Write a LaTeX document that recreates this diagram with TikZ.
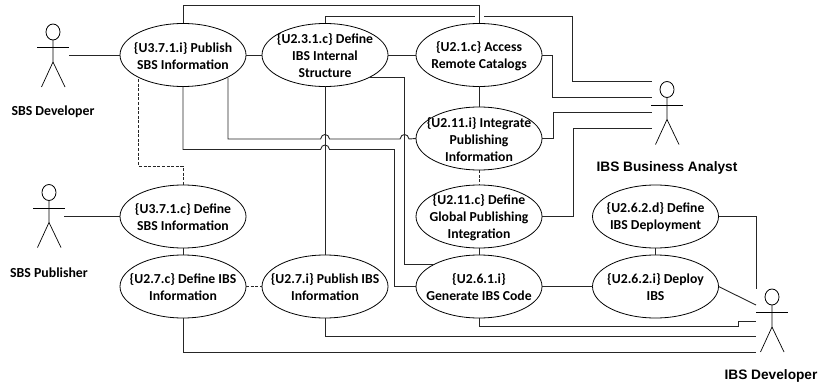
\documentclass[tikz,border=0pt]{standalone}
\usepackage{fontspec}
\setmainfont{Carlito}
\newfontfamily\arialfont{Liberation Sans}
\usetikzlibrary{shapes.geometric}
\tikzset{
  uc/.style={draw,ellipse,inner sep=0pt,outer sep=0pt,minimum width=126,minimum height=63,line width=0.8pt},
  lbl/.style={font=\fontsize{13.7}{17}\selectfont\bfseries,align=center,inner sep=0pt,yshift=-1pt},
  conn/.style={draw,line width=0.9pt,black!85},
  dashconn/.style={draw,line width=0.8pt,dash pattern=on 3pt off 1.6pt,black!85},
  limb/.style={draw,line width=0.7pt},
  head/.style={draw,ellipse,inner sep=0pt,outer sep=0pt,minimum width=14,minimum height=16,line width=0.8pt},
  cap1/.style={font=\fontsize{13.8}{15}\selectfont\bfseries,inner sep=0pt},
  cap2/.style={font=\arialfont\fontsize{13.7}{15}\selectfont\bfseries,inner sep=0pt},
}
\newcommand{\drawactor}[2]{%
  \draw[limb] (#1-16,#2+15.5) -- (#1+16,#2+15.5);
  \draw[limb] (#1,#2+8) -- (#1,#2+30) -- (#1-11.5,#2+55);
  \draw[limb] (#1,#2+30) -- (#1+12,#2+55);
}
\begin{document}
\begin{tikzpicture}[x=1pt,y=-1pt]
\useasboundingbox (0,0) rectangle (818,385);
% use cases
\node[uc,label={[lbl]center:{\{U3.7.1.i\} Publish\\SBS Information}}] (a) at (183,55) {};
\node[uc,label={[lbl]center:{\{U2.3.1.c\} Define\\IBS Internal\\Structure}}] (b) at (325,55) {};
\node[uc,label={[lbl]center:{\{U2.1.c\} Access\\Remote Catalogs}}] (c) at (479,55) {};
\node[uc,label={[lbl]center:{\{U2.11.i\} Integrate\\Publishing\\Information}}] (d) at (479,138.5) {};
\node[uc,label={[lbl]center:{\{U2.11.c\} Define\\Global Publishing\\Integration}}] (e) at (479,216.5) {};
\node[uc,label={[lbl]center:{\{U3.7.1.c\} Define\\SBS Information}}] (f) at (183,216.5) {};
\node[uc,label={[lbl]center:{\{U2.6.2.d\} Define\\IBS Deployment}}] (g) at (655.5,216.5) {};
\node[uc,label={[lbl]center:{\{U2.7.c\} Define IBS\\Information}}] (h) at (183,286.5) {};
\node[uc,label={[lbl]center:{\{U2.7.i\} Publish IBS\\Information}}] (i) at (325,286.5) {};
\node[uc,label={[lbl]center:{\{U2.6.1.i\}\\Generate IBS Code}}] (j) at (479,286.5) {};
\node[uc,label={[lbl]center:{\{U2.6.2.i\} Deploy\\IBS}}] (k) at (655.5,286.5) {};
% actors
\node[head] (sd) at (53,32) {};
\drawactor{53}{32}
\node[head] (sp) at (49,192.5) {};
\drawactor{49}{192.5}
\node[head] (ba) at (667,89.5) {};
\drawactor{667}{89.5}
\node[head] (de) at (772,297) {};
\drawactor{772}{297}
\node[cap1] (sdl) at (53,112) {SBS Developer};
\node[cap1] (spl) at (49,272.5) {SBS Publisher};
\node[cap2] (bal) at (667,168) {IBS Business Analyst};
\node[cap2] (del) at (771,376) {IBS Developer};
% free ends
\coordinate (sdh) at (69,55);
\coordinate (sph) at (64,216.5);
\coordinate (ba1) at (652,81.5);
\coordinate (ba2) at (652,97);
\coordinate (ba3) at (652,112.7);
\coordinate (ba4) at (652,128.5);
\coordinate (de1) at (756,289);
\coordinate (de2) at (756,305);
\coordinate (de3) at (756,321);
\coordinate (de4) at (756,336);
\coordinate (de5) at (756,352);
\coordinate (ar) at (228,78);
\coordinate (ad) at (138.5,79);
\coordinate (br) at (370,77.5);
\coordinate (jl) at (435,264);
% plain connectors
\draw[conn] (sdh) -- (a.west);
\draw[conn] (sph) -- (f.west);
\draw[conn] (a.east) -- (b.west);
\draw[conn] (b.east) -- (c.west);
\draw[conn] (c.south) -- (d.north);
\draw[conn] (f.south) -- (h.north);
\draw[conn] (e.south) -- (j.north);
\draw[conn] (g.south) -- (k.north);
\draw[conn] (j.east) -- (k.west);
\draw[conn] (b.south) -- (i.north);
\draw[conn] (k.east) -- (de2);
% routed connectors
\draw[conn] (a.north) |- (479,5.5) -- (c.north);
\draw[conn] (b.north) |- (475,16);
\draw[conn] (484,16) -- (572,16) |- (ba1);
\draw[conn] (c.east) -- (552,55) |- (ba2);
\draw[conn] (d.east) -- (553.5,138.5) |- (ba3);
\draw[conn] (e.east) -- (573,216.5) |- (ba4);
\draw[conn] (g.east) -- (756,216.5) -- (de1);
\draw[conn] (j.south) |- (738,326) -- (738,321) -- (de3);
\draw[conn] (i.south) |- (de4);
\draw[conn] (h.south) |- (de5);
% with hops
\draw[conn] (ar) |- (320.5,139) .. controls (321.5,133) and (328.5,133) .. (329.5,139)
  -- (400,139) .. controls (401,133) and (408,133) .. (409,139) -- (d.west);
\draw[conn] (a.south) |- (320.5,149.5) .. controls (321.5,143.5) and (328.5,143.5) .. (329.5,149.5)
  -- (394.5,149.5) |- (j.west);
\draw[conn] (br) -- (404.5,77.5) |- (jl);
% dashed
\draw[dashconn] (ad) |- (183,166) -- (f.north);
\draw[dashconn] (d.south) -- (e.north);
\draw[dashconn] (h.east) -- (i.west);
\end{tikzpicture}
\end{document}
